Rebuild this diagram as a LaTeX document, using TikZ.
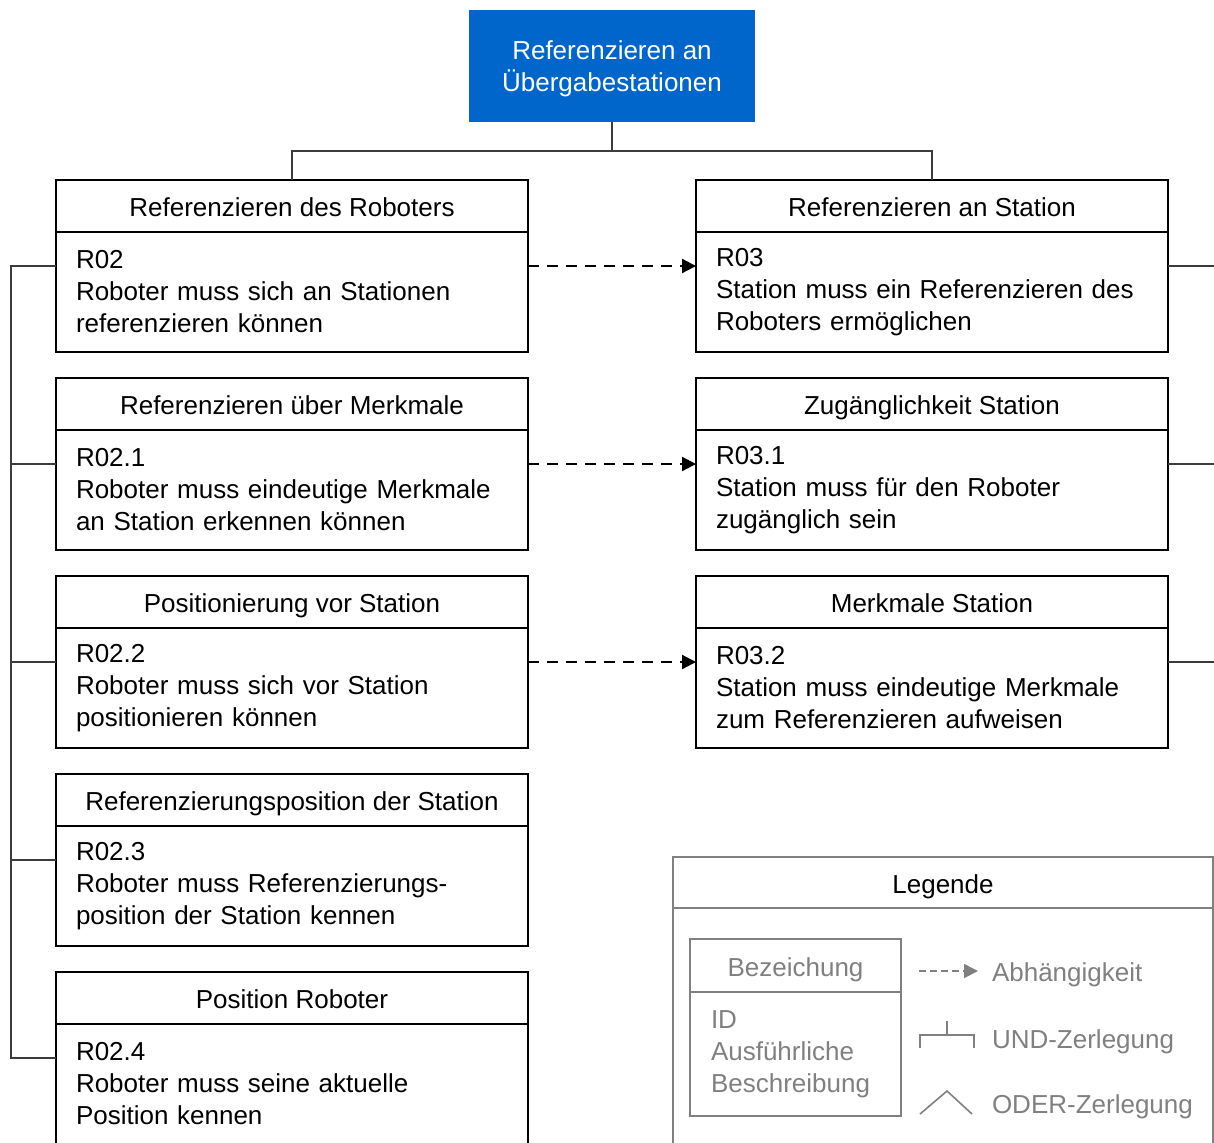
\documentclass[tikz,border=0pt]{standalone}
\usepackage{fontspec}
\setmainfont{Liberation Sans}
\usetikzlibrary{positioning,arrows.meta}
\definecolor{kopfblau}{RGB}{0,102,204}
\definecolor{leggrau}{RGB}{128,128,128}
\definecolor{liniengrau}{RGB}{60,60,60}

\begin{document}
\begin{tikzpicture}[
    x=0.5pt, y=-0.5pt,
    every node/.style={font=\fontsize{13}{16}\selectfont, outer sep=0pt},
    kopf/.style={draw, line width=1pt, minimum width=236pt, minimum height=26pt, inner sep=0pt, text height=10.6pt, text depth=0pt},
    inhalt/.style={draw, line width=1pt, minimum width=236pt, minimum height=60pt, text width=216pt, align=left, inner xsep=10pt, inner ysep=0pt},
    ziel/.style={fill=kopfblau, text=white, minimum width=143pt, minimum height=56pt, align=center, inner sep=0pt, text depth=0pt},
    verb/.style={draw=liniengrau, line width=0.6pt},
    abh/.style={line width=1.1pt, dash pattern=on 5.5pt off 4pt, -{Triangle[length=7pt,width=7pt]}},
    legkopf/.style={draw=leggrau, line width=0.8pt, minimum width=270pt, minimum height=25.5pt, inner sep=0pt, text height=10.6pt, text depth=0pt},
    leginhalt/.style={draw=leggrau, line width=0.8pt, minimum width=270pt, minimum height=150pt, inner sep=0pt},
    musterkopf/.style={draw=leggrau, text=leggrau, line width=0.8pt, minimum width=105.5pt, minimum height=26.5pt, inner sep=0pt, text height=10.6pt, text depth=0pt},
    musterinhalt/.style={draw=leggrau, text=leggrau, line width=0.8pt, minimum width=105.5pt, minimum height=62pt, text width=84.5pt, align=left, inner xsep=10.5pt, inner ysep=0pt},
    legtext/.style={text=leggrau, anchor=west, inner sep=0pt, text height=10.6pt, text depth=0pt},
    legsymbol/.style={draw=leggrau, line width=0.8pt},
    ]
    \useasboundingbox (0,0) rectangle (1214,1142);
    \clip (0,0) rectangle (1214,1142);

    % Ziel
    \node[ziel] (ziel) at (612,66) {Referenzieren an\\Übergabestationen};

    % Linke Spalte: Roboter
    \node[kopf] (lk1) at (292,206) {Referenzieren des Roboters};
    \node[inhalt, below=0pt of lk1] (li1) {R02\\Roboter muss sich an Stationen\\referenzieren können};
    \node[kopf] (lk2) at (292,404) {Referenzieren über Merkmale};
    \node[inhalt, below=0pt of lk2] (li2) {R02.1\\Roboter muss eindeutige Merkmale\\an Station erkennen können};
    \node[kopf] (lk3) at (292,602) {Positionierung vor Station};
    \node[inhalt, below=0pt of lk3] (li3) {R02.2\\Roboter muss sich vor Station\\positionieren können};
    \node[kopf] (lk4) at (292,800) {Referenzierungsposition der Station};
    \node[inhalt, below=0pt of lk4] (li4) {R02.3\\Roboter muss Referenzierungs-\\position der Station kennen};
    \node[kopf] (lk5) at (292,998) {Position Roboter};
    \node[inhalt, below=0pt of lk5] (li5) {R02.4\\Roboter muss seine aktuelle\\Position kennen};

    % Rechte Spalte: Station
    \node[kopf] (rk1) at (932,206) {Referenzieren an Station};
    \node[inhalt, below=0pt of rk1] (ri1) {R03\\Station muss ein Referenzieren des\\Roboters ermöglichen};
    \node[kopf] (rk2) at (932,404) {Zugänglichkeit Station};
    \node[inhalt, below=0pt of rk2] (ri2) {R03.1\\Station muss für den Roboter\\zugänglich sein};
    \node[kopf] (rk3) at (932,602) {Merkmale Station};
    \node[inhalt, below=0pt of rk3] (ri3) {R03.2\\Station muss eindeutige Merkmale\\zum Referenzieren aufweisen};

    % Zerlegung
    \draw[verb] (ziel.south) -- ++(0,29) -| (lk1.north);
    \draw[verb] (ziel.south) -- ++(0,29) -| (rk1.north);
    \draw[verb] ([yshift=13pt]li1.west) -- ++(-45,0) |- ([yshift=13pt]li5.west);
    \foreach \i in {2,3,4}
        \draw[verb] ([yshift=13pt]li\i.west) -- ++(-45,0);
    \foreach \i in {1,2,3}
        \draw[verb] ([yshift=13pt]ri\i.east) -- ++(50,0);

    % Abhaengigkeiten
    \foreach \i in {1,2,3}
        \draw[abh] ([yshift=13pt]li\i.east) -- ([yshift=13pt]ri\i.west);

    % Legende
    \node[legkopf] (legk) at (943,882.5) {Legende};
    \node[leginhalt, below=0pt of legk] (legi) {};
    \node[musterkopf] (mk) at (795.5,965.5) {Bezeichung};
    \node[musterinhalt, below=0pt of mk] (mi) {ID\\Ausführliche\\Beschreibung};
    \node[legtext] (labh) at (992,971) {Abhängigkeit};
    \node[legtext] (lund) at (992,1038) {UND-Zerlegung};
    \node[legtext] (loder) at (992,1103) {ODER-Zerlegung};
    \draw[legsymbol, dash pattern=on 3.5pt off 2pt, -{Triangle[length=7pt,width=7pt]}] ([xshift=-36.5pt]labh.west) -- ([xshift=-7pt]labh.west);
    \draw[legsymbol] (920,1048) |- (974,1035) -- (974,1048);
    \draw[legsymbol] (947,1035) -- (947,1021);
    \draw[legsymbol] (920,1114) -- (947,1091) -- (972,1114);
  \end{tikzpicture}
\end{document}
